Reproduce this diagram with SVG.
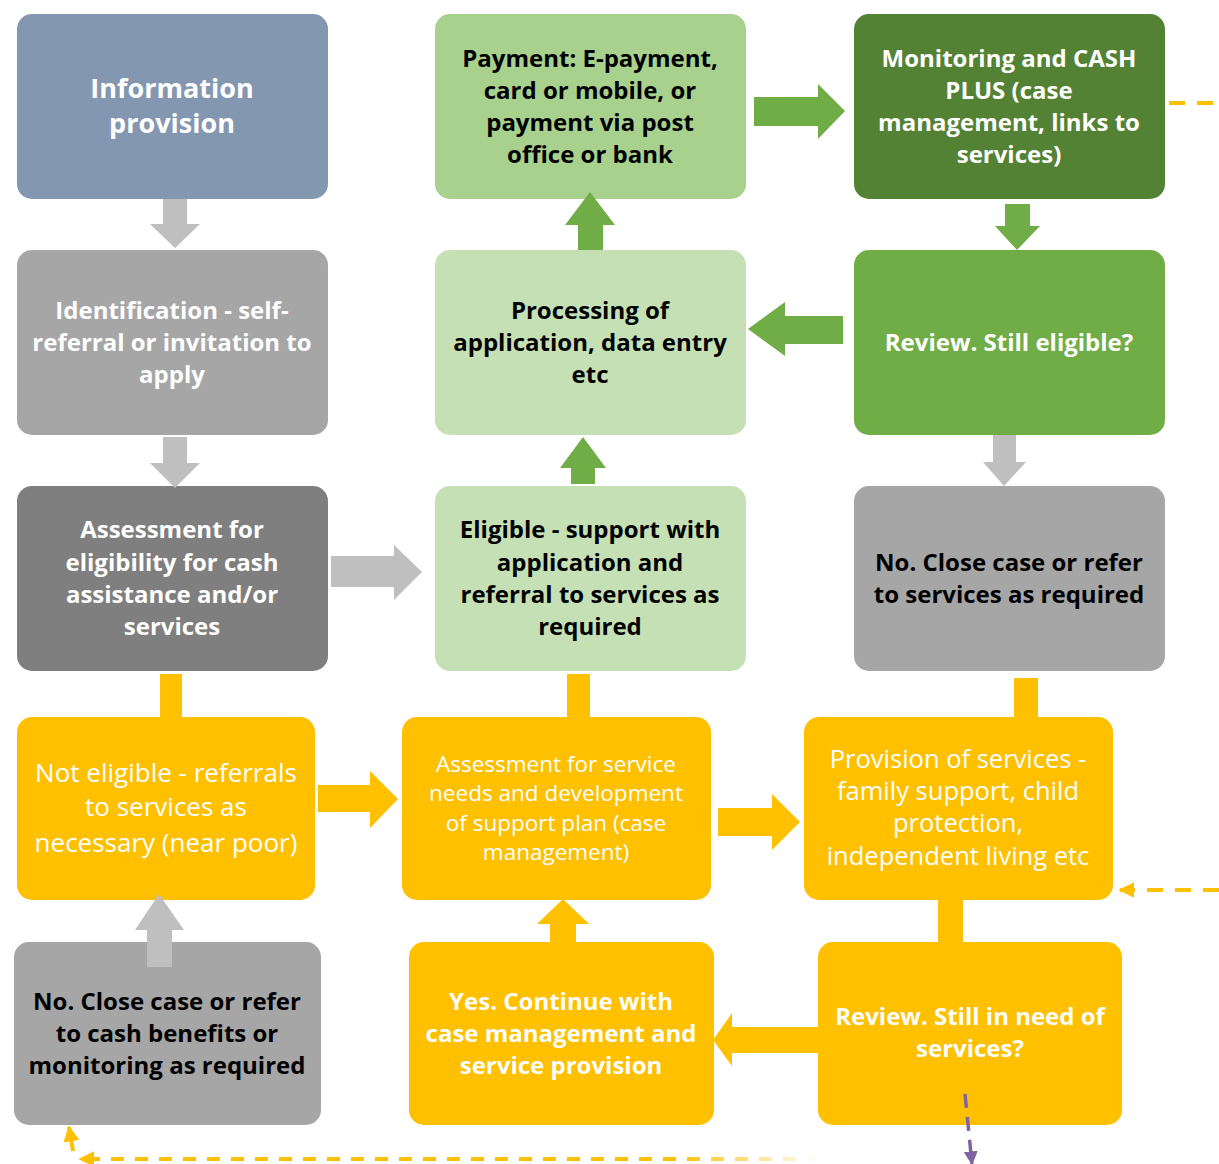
<svg xmlns="http://www.w3.org/2000/svg" width="1219" height="1164" viewBox="0 0 1219 1164">
<style>
text{font-family:"Open Sans","Liberation Sans",sans-serif;text-anchor:middle;dominant-baseline:central}
.b{font-weight:bold;font-size:24px}
.w{fill:#fff}.k{fill:#000}
.r{font-size:26px;fill:#fff}
.s{font-size:22.5px;fill:#fff}
.ga{fill:#BFBFBF}.gr{fill:#70AD47}.ye{fill:#FFC000}
.dash{fill:none;stroke:#FFC000;stroke-width:4;stroke-dasharray:16 12}
</style>
<defs>
<marker id="ya" viewBox="0 0 10 10" refX="9" refY="5" markerWidth="4" markerHeight="4" orient="auto" markerUnits="strokeWidth"><path d="M0,0L10,5L0,10z" fill="#FFC000"/></marker>
<marker id="pa" viewBox="0 0 10 10" refX="9" refY="5" markerWidth="4" markerHeight="4" orient="auto" markerUnits="strokeWidth"><path d="M0,0L10,5L0,10z" fill="#8064A2"/></marker>
<linearGradient id="fade" gradientUnits="userSpaceOnUse" x1="85" y1="0" x2="820" y2="0">
<stop offset="0.8" stop-color="#FFC000" stop-opacity="1"/>
<stop offset="1" stop-color="#FFC000" stop-opacity="0"/>
</linearGradient>
</defs>
<rect width="1219" height="1164" fill="#fff"/>

<g id="n-info"><rect x="17" y="14" width="311" height="185" rx="15" fill="#8497B0"/>
<text class="b w" x="172" y="87" style="font-size:27px">Information</text><text class="b w" x="172" y="122" style="font-size:27px">provision</text></g>

<g id="n-payment"><rect x="435" y="14" width="311" height="185" rx="15" fill="#A9D18E"/>
<text class="b k" x="590" y="57">Payment: E-payment,</text><text class="b k" x="590" y="89">card or mobile, or</text><text class="b k" x="590" y="121">payment via post</text><text class="b k" x="590" y="153">office or bank</text></g>

<g id="n-monitor"><rect x="854" y="14" width="311" height="185" rx="15" fill="#548235"/>
<text class="b w" x="1009" y="57">Monitoring and CASH</text><text class="b w" x="1009" y="89">PLUS (case</text><text class="b w" x="1009" y="121">management, links to</text><text class="b w" x="1009" y="153">services)</text></g>

<g id="n-ident"><rect x="17" y="250" width="311" height="185" rx="15" fill="#A6A6A6"/>
<text class="b w" x="172" y="309">Identification - self-</text><text class="b w" x="172" y="341">referral or invitation to</text><text class="b w" x="172" y="373">apply</text></g>

<g id="n-process"><rect x="435" y="250" width="311" height="185" rx="15" fill="#C5E0B4"/>
<text class="b k" x="590" y="309">Processing of</text><text class="b k" x="590" y="341">application, data entry</text><text class="b k" x="590" y="373">etc</text></g>

<g id="n-review1"><rect x="854" y="250" width="311" height="185" rx="15" fill="#70AD47"/>
<text class="b w" x="1009" y="341">Review. Still eligible?</text></g>

<g id="n-assess"><rect x="17" y="486" width="311" height="185" rx="15" fill="#7F7F7F"/>
<text class="b w" x="172" y="528">Assessment for</text><text class="b w" x="172" y="561">eligibility for cash</text><text class="b w" x="172" y="593">assistance and/or</text><text class="b w" x="172" y="625">services</text></g>

<g id="n-eligible"><rect x="435" y="486" width="311" height="185" rx="15" fill="#C5E0B4"/>
<text class="b k" x="590" y="528">Eligible - support with</text><text class="b k" x="590" y="561">application and</text><text class="b k" x="590" y="593">referral to services as</text><text class="b k" x="590" y="625">required</text></g>

<g id="n-noclose1"><rect x="854" y="486" width="311" height="185" rx="15" fill="#A6A6A6"/>
<text class="b k" x="1009" y="561">No. Close case or refer</text><text class="b k" x="1009" y="593">to services as required</text></g>

<g id="n-noteligible"><rect x="17" y="717" width="298" height="183" rx="15" fill="#FFC000"/>
<text class="r" x="166" y="772">Not eligible - referrals</text><text class="r" x="166" y="806">to services as</text><text class="r" x="166" y="842">necessary (near poor)</text></g>

<g id="n-assessservice"><rect x="402" y="717" width="309" height="183" rx="15" fill="#FFC000"/>
<text class="s" x="556" y="763">Assessment for service</text><text class="s" x="556" y="792">needs and development</text><text class="s" x="556" y="822">of support plan (case</text><text class="s" x="556" y="851">management)</text></g>

<g id="n-provision"><rect x="804" y="717" width="309" height="183" rx="15" fill="#FFC000"/>
<text class="r" x="958" y="758" style="font-size:25.5px">Provision of services -</text><text class="r" x="958" y="790" style="font-size:25.5px">family support, child</text><text class="r" x="958" y="822" style="font-size:25.5px">protection,</text><text class="r" x="958" y="855" style="font-size:25.5px">independent living etc</text></g>

<g id="n-noclose2"><rect x="14" y="942" width="307" height="183" rx="15" fill="#A6A6A6"/>
<text class="b k" x="167" y="1000">No. Close case or refer</text><text class="b k" x="167" y="1032">to cash benefits or</text><text class="b k" x="167" y="1064">monitoring as required</text></g>

<g id="n-yes"><rect x="409" y="942" width="305" height="183" rx="15" fill="#FFC000"/>
<text class="b w" x="561" y="1000">Yes. Continue with</text><text class="b w" x="561" y="1032">case management and</text><text class="b w" x="561" y="1064">service provision</text></g>

<g id="n-review2"><rect x="818" y="942" width="304" height="183" rx="15" fill="#FFC000"/>
<text class="b w" x="970" y="1015">Review. Still in need of</text><text class="b w" x="970" y="1047">services?</text></g>

<g id="connectors">
<path class="ga" d="M163,199H187V224H200L175,248L150,224H163Z"/>
<path class="ga" d="M163,437H187V463H200L175,488L150,463H163Z"/>
<path class="ga" d="M331,556H394V545L422,572L394,600V587H331Z"/>
<path class="gr" d="M754,97H818V84L845,111L818,139V126H754Z"/>
<path class="gr" d="M1005,204H1030V226H1040L1017,250L995,226H1005Z"/>
<path class="gr" d="M843,316H785V302L748,329L785,356V344H843Z"/>
<path class="gr" d="M578,250H603V225H615L590,192L565,225H578Z"/>
<path class="gr" d="M571,484H595V468H606L583,437L560,468H571Z"/>
<path class="ga" d="M993,435H1016V462H1026L1004,486L983,462H993Z"/>
<rect class="ye" x="160" y="674" width="22" height="43"/>
<rect class="ye" x="567" y="674" width="23" height="43"/>
<rect class="ye" x="1014" y="678" width="24" height="39"/>
<path class="ye" d="M318,785H370V771L398,799L370,828V812H318Z"/>
<path class="ye" d="M718,808H772V794L800,822L772,850V836H718Z"/>
<rect class="ye" x="938" y="900" width="25" height="42"/>
<path class="ye" d="M550,942H576V924H589L563,899L537,924H550Z"/>
<path class="ye" d="M818,1027H732V1013L713,1040L732,1066V1053H818Z"/>
<path class="ga" d="M147,967H172V930H184L159,894L135,930H147Z"/>
<path class="dash" d="M1169,103H1219"/>
<path class="dash" d="M1219,890H1120" marker-end="url(#ya)"/>
<path d="M820,1159H80" fill="none" stroke="url(#fade)" stroke-width="4" stroke-dasharray="13 11" marker-end="url(#ya)"/>
<path d="M73,1151L69,1127" fill="none" stroke="#FFC000" stroke-width="4" marker-end="url(#ya)"/>
<path d="M965,1094L972,1164" fill="none" stroke="#8064A2" stroke-width="3.5" stroke-dasharray="14 9" marker-end="url(#pa)"/>
</g>
</svg>
